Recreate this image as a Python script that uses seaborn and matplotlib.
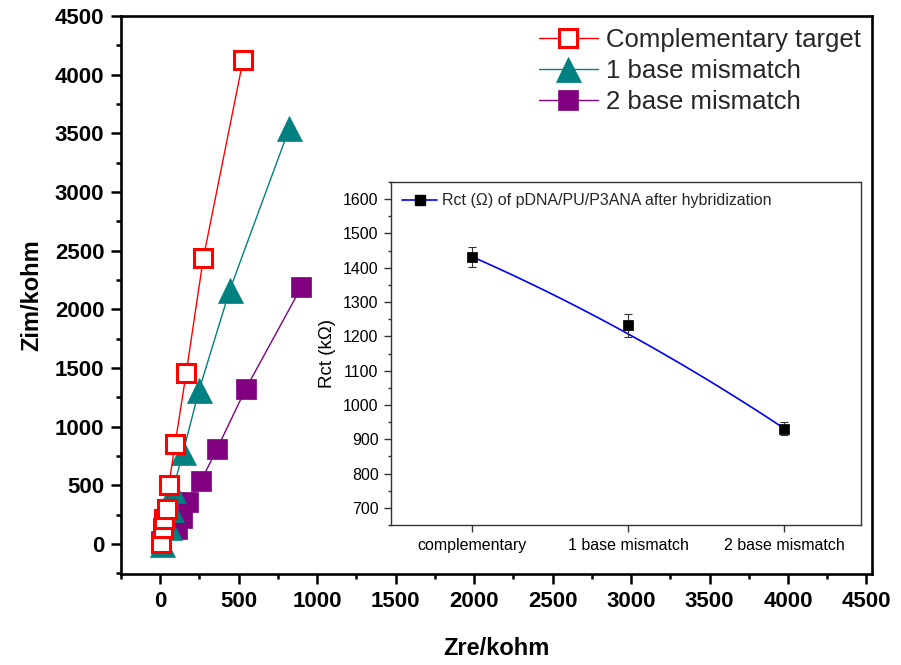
import numpy as np
import matplotlib
matplotlib.use('Agg')
import matplotlib.pyplot as plt
from matplotlib.lines import Line2D
from matplotlib.ticker import MultipleLocator
import seaborn as sns

# Nyquist data (kohm)
comp_zre = [8, 18, 25, 40, 55, 95, 165, 275, 528]
comp_zim = [10, 140, 210, 300, 505, 855, 1455, 2440, 4125]
mis1_zre = [10, 55, 70, 80, 146, 247, 443, 823]
mis1_zim = [0, 145, 300, 460, 785, 1310, 2165, 3545]
mis2_zre = [5, 108, 139, 177, 259, 361, 544, 899]
mis2_zim = [30, 128, 222, 358, 537, 809, 1321, 2190]

# inset: Rct after hybridization
rct_labels = ['complementary', '1 base mismatch', '2 base mismatch']
rct_vals = [1432, 1232, 931]
rct_err = [29, 33, 18]

sns.set_style('ticks')
plt.rcParams['font.family'] = ['Liberation Sans', 'DejaVu Sans']

fig = plt.figure(figsize=(9.01, 6.65), dpi=100)
ax = fig.add_axes([0.1343, 0.1368, 0.8335, 0.8391])

#%% main Nyquist plot
sns.lineplot(x=mis2_zre, y=mis2_zim, ax=ax, sort=False, estimator=None,
             color='#800080', lw=1, marker='s', ms=14, mec='#800080', mew=0.5,
             label='2 base mismatch')
sns.lineplot(x=mis1_zre, y=mis1_zim, ax=ax, sort=False, estimator=None,
             color='#008080', lw=1, marker='^', ms=18, mec='#008080', mew=0.5,
             label='1 base mismatch')
sns.lineplot(x=comp_zre, y=comp_zim, ax=ax, sort=False, estimator=None,
             color='red', lw=1, marker='s', ms=13, mfc='white', mec='red', mew=2.2,
             label='Complementary target')

ax.set_xlim(-250, 4535)
ax.set_ylim(-255, 4500)
ax.xaxis.set_major_locator(MultipleLocator(500))
ax.xaxis.set_minor_locator(MultipleLocator(250))
ax.yaxis.set_major_locator(MultipleLocator(500))
ax.yaxis.set_minor_locator(MultipleLocator(250))
ax.tick_params(which='both', direction='out', width=1.8, color='black',
               top=False, right=False, labelcolor='black')
ax.tick_params(which='major', length=7, labelsize=16, pad=5)
ax.tick_params(which='minor', length=3.5)
for lbl in ax.get_xticklabels() + ax.get_yticklabels():
    lbl.set_fontweight('bold')
for sp in ax.spines.values():
    sp.set_linewidth(1.9)
    sp.set_color('black')
    sp.set_visible(True)
ax.set_xlabel('Zre/kohm', fontsize=17, fontweight='bold', labelpad=18, color='black')
ax.set_ylabel('Zim/kohm', fontsize=17, fontweight='bold', labelpad=8, color='black')

handles, labels = ax.get_legend_handles_labels()
ax.legend(handles[::-1], labels[::-1], loc='upper right', frameon=False,
          fontsize=18.5, labelspacing=0.28, handlelength=2.3, handletextpad=0.3,
          borderaxespad=0.1, borderpad=0.35)

#%% inset: Rct
axi = fig.add_axes([0.434, 0.2105, 0.5216, 0.5158])
axi.set_facecolor('white')
pos = np.arange(len(rct_vals))
# smooth B-spline style curve (quadratic Bezier with the points as control points)
t = np.linspace(0, 1, 80)
bx = (1 - t) ** 2 * pos[0] + 2 * t * (1 - t) * pos[1] + t ** 2 * pos[2]
by = (1 - t) ** 2 * rct_vals[0] + 2 * t * (1 - t) * rct_vals[1] + t ** 2 * rct_vals[2]
sns.lineplot(x=bx, y=by, ax=axi, color='blue', lw=1.2, estimator=None, sort=False)
axi.errorbar(pos, rct_vals, yerr=rct_err, fmt='none', ecolor='#333333',
             elinewidth=0.8, capsize=3, capthick=0.8, zorder=4)
sns.scatterplot(x=pos, y=rct_vals, ax=axi, marker='s', s=42, color='black',
                edgecolor='black', zorder=5)

axi.set_xlim(-0.52, 2.49)
axi.set_ylim(650, 1650)
axi.set_xticks(pos)
axi.set_xticklabels(rct_labels)
axi.yaxis.set_major_locator(MultipleLocator(100))
axi.yaxis.set_minor_locator(MultipleLocator(50))
axi.tick_params(which='both', direction='out', color='#333333', width=1,
                top=False, right=False, labelcolor='black')
axi.tick_params(which='major', length=5, labelsize=11.5, pad=4)
axi.tick_params(which='minor', length=2.5)
for sp in axi.spines.values():
    sp.set_linewidth(1)
    sp.set_color('#333333')
    sp.set_visible(True)
axi.set_ylabel('Rct (kΩ)', fontsize=13.5, labelpad=5, color='black')
axi.set_xlabel('')

proxy = Line2D([], [], color='blue', lw=1.2, marker='s', mfc='black', mec='black', ms=6.5)
axi.legend([proxy], ['Rct (Ω) of pDNA/PU/P3ANA after hybridization'], loc='upper left',
           frameon=False, fontsize=11.5, handlelength=2.2, handletextpad=0.3,
           borderaxespad=0.3)

fig.savefig('out.png', dpi=100)
